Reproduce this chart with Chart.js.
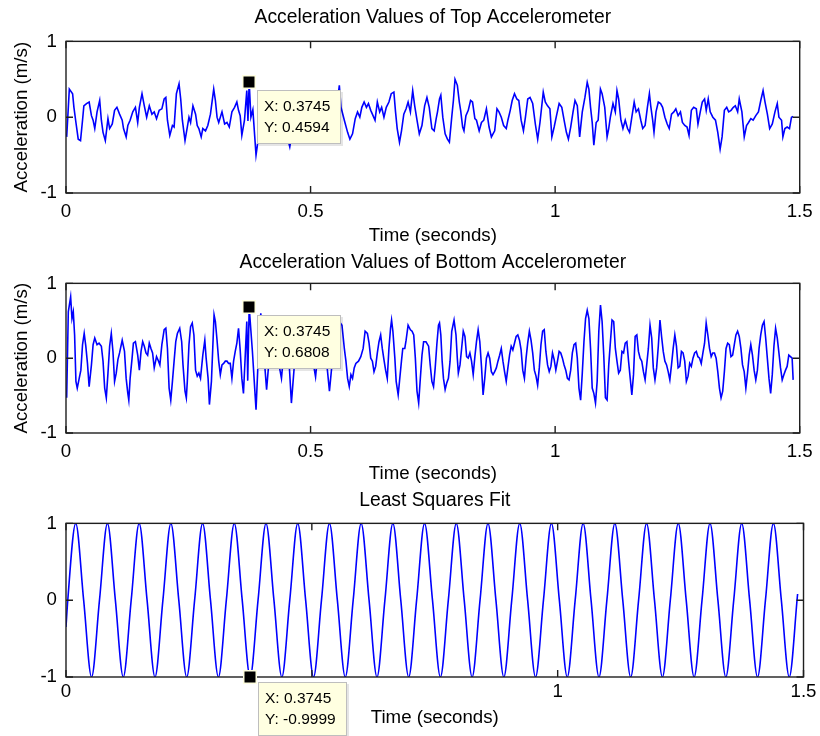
<!DOCTYPE html>
<html><head><meta charset="utf-8">
<script src="https://cdn.jsdelivr.net/npm/chart.js@4/dist/chart.umd.min.js"></script>
<style>
html,body{margin:0;padding:0;background:#fff;}
#wrap{position:relative;width:820px;height:736px;overflow:hidden;background:#fff;}
canvas{position:absolute;left:0;}
</style></head><body>
<div id="wrap">
<canvas id="c1" width="820" height="250" style="top:0px"></canvas>
<canvas id="c2" width="820" height="250" style="top:240px"></canvas>
<canvas id="c3" width="820" height="256" style="top:480px"></canvas>
</div>
<script>
// ---- ticks and labels ----
const xTicks = [0, 0.5, 1, 1.5];
const xTickLabels = ['0', '0.5', '1', '1.5'];
const yTicks = [-1, 0, 1];
const yTickLabels = ['-1', '0', '1'];
const plotTitles = ['Acceleration Values of Top Accelerometer', 'Acceleration Values of Bottom Accelerometer', 'Least Squares Fit'];
const xAxisTitle = 'Time (seconds)';
const yAxisTitle = 'Acceleration (m/s)';
// ---- data tips [time, value] ----
const dataTips = [[0.3745, 0.4594], [0.3745, 0.6808], [0.3745, -0.9999]];

// ---- series: [time (s), acceleration] ----
const topAccelerometer = [
[0.0014,-0.26],[0.0068,0.37],[0.0135,0.31],[0.0162,0.13],[0.0203,-0.07],[0.0250,-0.29],[0.0297,-0.31],[0.0338,-0.04],[0.0365,0.15],[0.0419,0.18],
[0.0473,0.20],[0.0520,0.02],[0.0554,-0.04],[0.0588,-0.15],[0.0635,0.07],[0.0689,0.22],[0.0723,-0.04],[0.0757,-0.20],[0.0804,-0.31],[0.0858,-0.02],
[0.0892,-0.15],[0.0946,-0.09],[0.0993,0.09],[0.1041,0.13],[0.1095,0.04],[0.1149,-0.04],[0.1176,-0.15],[0.1230,-0.26],[0.1264,-0.11],[0.1311,-0.04],
[0.1365,0.07],[0.1419,0.13],[0.1466,-0.07],[0.1500,0.13],[0.1554,0.31],[0.1601,0.15],[0.1649,0.00],[0.1703,0.15],[0.1757,0.04],[0.1804,0.07],
[0.1851,-0.02],[0.1905,0.09],[0.1960,0.11],[0.2007,0.24],[0.2041,0.26],[0.2074,-0.04],[0.2122,-0.24],[0.2176,-0.11],[0.2210,-0.13],[0.2257,0.31],
[0.2311,0.44],[0.2345,0.24],[0.2379,-0.04],[0.2433,-0.31],[0.2480,-0.13],[0.2514,0.00],[0.2547,-0.07],[0.2595,0.15],[0.2649,0.04],[0.2683,-0.11],
[0.2716,-0.15],[0.2764,-0.26],[0.2797,-0.15],[0.2852,-0.18],[0.2899,-0.11],[0.2953,0.04],[0.3020,0.37],[0.3054,0.22],[0.3088,0.00],[0.3122,-0.07],
[0.3189,0.07],[0.3243,-0.09],[0.3291,-0.07],[0.3338,-0.13],[0.3392,0.07],[0.3446,0.13],[0.3493,0.20],[0.3527,0.09],[0.3561,0.02],[0.3595,-0.24],
[0.3649,-0.04],[0.3696,0.35],[0.3720,-0.05],[0.3745,0.4594],[0.3780,0.00],[0.3820,0.10],[0.3885,-0.50],[0.3950,-0.20],[0.4020,0.05],[0.4100,-0.10],
[0.4200,0.10],[0.4300,-0.15],[0.4400,0.05],[0.4500,-0.20],[0.4575,-0.39],[0.4650,-0.10],[0.4750,0.10],[0.4850,-0.10],[0.4950,0.15],[0.5050,-0.05],
[0.5150,0.10],[0.5250,-0.15],[0.5350,0.05],[0.5450,-0.10],[0.5520,0.05],[0.5588,0.42],[0.5622,0.13],[0.5690,-0.04],[0.5757,-0.20],[0.5804,-0.29],
[0.5858,-0.22],[0.5913,-0.02],[0.5960,0.07],[0.6007,0.00],[0.6048,0.13],[0.6095,0.20],[0.6142,0.13],[0.6183,0.18],[0.6230,0.09],[0.6277,0.02],
[0.6318,-0.04],[0.6365,0.20],[0.6413,0.07],[0.6453,0.13],[0.6500,0.00],[0.6548,0.13],[0.6602,0.20],[0.6649,0.31],[0.6703,0.33],[0.6737,0.07],
[0.6771,-0.15],[0.6818,-0.33],[0.6859,-0.18],[0.6906,0.04],[0.6953,0.11],[0.6994,0.20],[0.7041,0.07],[0.7088,0.35],[0.7129,0.15],[0.7176,-0.04],
[0.7223,-0.22],[0.7277,-0.11],[0.7332,0.15],[0.7379,0.26],[0.7426,0.13],[0.7480,-0.15],[0.7527,-0.18],[0.7568,-0.02],[0.7595,0.07],[0.7636,0.24],
[0.7663,0.29],[0.7703,0.00],[0.7751,-0.22],[0.7798,-0.29],[0.7838,-0.33],[0.7886,0.00],[0.7920,0.22],[0.7953,0.50],[0.8001,0.42],[0.8041,0.20],
[0.8068,0.09],[0.8109,-0.13],[0.8136,-0.18],[0.8176,0.02],[0.8224,0.09],[0.8271,0.22],[0.8311,0.20],[0.8359,-0.02],[0.8392,-0.04],[0.8447,-0.18],
[0.8494,-0.07],[0.8541,-0.04],[0.8595,0.11],[0.8649,-0.13],[0.8697,-0.26],[0.8730,-0.22],[0.8764,-0.18],[0.8811,0.11],[0.8852,0.07],[0.8899,0.00],
[0.8947,-0.11],[0.9001,-0.15],[0.9034,-0.04],[0.9082,0.09],[0.9122,0.22],[0.9169,0.31],[0.9217,0.24],[0.9257,0.22],[0.9305,-0.04],[0.9352,-0.18],
[0.9393,0.00],[0.9440,0.24],[0.9487,0.26],[0.9541,0.18],[0.9595,-0.09],[0.9643,-0.29],[0.9690,-0.07],[0.9757,0.33],[0.9798,0.20],[0.9845,0.15],
[0.9893,0.11],[0.9933,-0.26],[0.9980,-0.13],[1.0028,0.02],[1.0082,0.18],[1.0136,0.13],[1.0183,-0.04],[1.0230,-0.20],[1.0271,-0.29],[1.0318,-0.13],
[1.0366,0.07],[1.0406,0.22],[1.0453,0.15],[1.0501,-0.26],[1.0555,0.07],[1.0609,0.26],[1.0656,0.46],[1.0690,0.37],[1.0724,0.13],[1.0758,-0.07],
[1.0791,-0.37],[1.0839,-0.07],[1.0879,-0.04],[1.0926,0.37],[1.0960,0.31],[1.1014,0.13],[1.1062,-0.26],[1.1095,-0.15],[1.1129,0.00],[1.1183,0.18],
[1.1230,0.07],[1.1264,0.35],[1.1298,0.24],[1.1345,-0.04],[1.1386,-0.15],[1.1433,-0.04],[1.1480,-0.15],[1.1521,-0.20],[1.1568,0.00],[1.1616,0.20],
[1.1656,0.07],[1.1703,0.11],[1.1751,-0.04],[1.1791,-0.15],[1.1839,-0.11],[1.1886,0.13],[1.1927,0.31],[1.1954,0.15],[1.1994,-0.04],[1.2021,-0.20],
[1.2062,0.07],[1.2109,0.20],[1.2156,0.18],[1.2197,0.13],[1.2244,0.00],[1.2291,-0.09],[1.2332,-0.15],[1.2379,0.04],[1.2427,0.07],[1.2467,0.11],
[1.2514,0.02],[1.2562,0.07],[1.2602,-0.07],[1.2650,-0.11],[1.2697,-0.13],[1.2737,-0.24],[1.2785,0.09],[1.2832,0.13],[1.2886,0.11],[1.2920,-0.09],
[1.2967,0.07],[1.3008,0.20],[1.3055,0.24],[1.3089,0.09],[1.3130,0.24],[1.3170,0.07],[1.3224,0.00],[1.3278,-0.04],[1.3325,-0.20],[1.3373,-0.42],
[1.3413,-0.26],[1.3460,0.09],[1.3508,0.13],[1.3548,0.07],[1.3596,0.09],[1.3643,0.13],[1.3683,0.15],[1.3731,0.07],[1.3764,0.24],[1.3818,0.07],
[1.3866,-0.26],[1.3913,-0.11],[1.3954,-0.07],[1.4001,-0.02],[1.4048,-0.04],[1.4102,0.02],[1.4156,0.07],[1.4204,0.22],[1.4251,0.35],[1.4291,0.20],
[1.4339,0.04],[1.4386,-0.15],[1.4440,-0.09],[1.4494,0.07],[1.4541,0.18],[1.4575,0.00],[1.4629,-0.04],[1.4656,-0.26],[1.4697,-0.15],[1.4744,-0.13],
[1.4791,-0.15],[1.4832,0.00],[1.4866,0.01]
];

const bottomAccelerometer = [
[0.0014,-0.53],[0.0047,0.62],[0.0095,0.82],[0.0122,0.53],[0.0149,0.62],[0.0176,0.31],[0.0203,-0.31],[0.0230,-0.40],[0.0270,-0.27],[0.0304,-0.16],
[0.0338,0.18],[0.0372,0.33],[0.0405,0.16],[0.0439,-0.07],[0.0473,-0.38],[0.0520,-0.09],[0.0554,0.18],[0.0588,0.27],[0.0635,0.18],[0.0676,0.20],
[0.0723,0.16],[0.0757,-0.04],[0.0791,-0.40],[0.0824,-0.53],[0.0858,-0.20],[0.0892,0.16],[0.0926,0.33],[0.0960,0.09],[0.0993,-0.31],[0.1027,-0.20],
[0.1061,-0.02],[0.1095,0.07],[0.1149,0.24],[0.1196,0.09],[0.1230,-0.27],[0.1264,-0.47],[0.1284,-0.56],[0.1311,-0.27],[0.1351,0.00],[0.1378,0.20],
[0.1419,0.22],[0.1466,0.04],[0.1500,-0.16],[0.1534,0.09],[0.1568,0.22],[0.1601,0.16],[0.1635,0.07],[0.1669,0.04],[0.1703,0.20],[0.1737,0.13],
[0.1770,0.07],[0.1804,-0.13],[0.1851,0.02],[0.1892,-0.04],[0.1919,-0.09],[0.1960,0.18],[0.2007,0.38],[0.2041,0.40],[0.2074,0.13],[0.2108,-0.40],
[0.2142,-0.56],[0.2176,-0.31],[0.2210,-0.04],[0.2244,0.22],[0.2277,0.33],[0.2325,0.40],[0.2365,0.22],[0.2392,-0.09],[0.2433,-0.44],[0.2460,-0.53],
[0.2480,-0.31],[0.2514,0.18],[0.2547,0.42],[0.2581,0.47],[0.2615,0.31],[0.2649,-0.16],[0.2683,-0.24],[0.2716,-0.20],[0.2750,-0.27],[0.2797,0.04],
[0.2838,0.24],[0.2865,0.00],[0.2905,-0.27],[0.2932,-0.62],[0.2973,-0.31],[0.3000,0.13],[0.3027,0.58],[0.3054,0.49],[0.3088,0.24],[0.3122,-0.04],
[0.3155,-0.22],[0.3189,-0.09],[0.3223,-0.07],[0.3257,-0.04],[0.3291,-0.04],[0.3324,-0.07],[0.3358,-0.07],[0.3392,-0.27],[0.3426,-0.04],[0.3460,0.09],
[0.3493,0.20],[0.3527,0.40],[0.3561,0.11],[0.3595,-0.27],[0.3628,-0.47],[0.3662,0.00],[0.3696,0.49],[0.3715,-0.30],[0.3745,0.6808],[0.3810,0.10],
[0.3885,-0.69],[0.3930,0.00],[0.3982,0.60],[0.4040,0.10],[0.4101,-0.42],[0.4180,0.20],[0.4260,0.35],[0.4330,0.00],[0.4405,-0.27],[0.4470,0.20],
[0.4530,0.30],[0.4608,-0.60],[0.4680,0.00],[0.4760,0.35],[0.4840,0.10],[0.4920,0.30],[0.5000,0.15],[0.5102,-0.25],[0.5170,0.20],[0.5250,0.35],
[0.5320,0.00],[0.5386,-0.44],[0.5450,0.00],[0.5520,0.30],[0.5588,0.49],[0.5642,0.44],[0.5690,0.13],[0.5723,-0.04],[0.5757,-0.27],[0.5791,-0.38],
[0.5825,-0.22],[0.5858,-0.27],[0.5892,-0.13],[0.5926,-0.07],[0.5980,-0.04],[0.6027,0.02],[0.6075,0.13],[0.6115,0.36],[0.6162,0.33],[0.6196,0.20],
[0.6230,0.00],[0.6264,-0.04],[0.6297,-0.18],[0.6331,-0.11],[0.6365,0.07],[0.6399,0.22],[0.6433,0.31],[0.6466,0.13],[0.6500,-0.02],[0.6534,-0.16],
[0.6568,-0.27],[0.6602,0.13],[0.6635,0.40],[0.6656,0.51],[0.6683,0.36],[0.6723,0.00],[0.6750,-0.31],[0.6791,-0.49],[0.6818,-0.31],[0.6858,-0.04],
[0.6885,0.13],[0.6926,0.13],[0.6953,0.24],[0.6994,0.44],[0.7041,0.38],[0.7075,0.36],[0.7109,0.31],[0.7142,0.00],[0.7176,-0.44],[0.7210,-0.60],
[0.7244,-0.27],[0.7278,0.04],[0.7311,0.22],[0.7359,0.22],[0.7413,0.16],[0.7446,-0.09],[0.7480,-0.31],[0.7514,-0.38],[0.7548,-0.13],[0.7581,0.18],
[0.7615,0.44],[0.7636,0.47],[0.7663,0.31],[0.7690,-0.04],[0.7717,-0.27],[0.7751,-0.42],[0.7784,-0.33],[0.7818,-0.27],[0.7852,-0.04],[0.7886,0.36],
[0.7933,0.51],[0.7973,0.31],[0.8000,0.00],[0.8021,-0.20],[0.8055,-0.09],[0.8088,0.13],[0.8122,0.36],[0.8156,0.29],[0.8190,0.02],[0.8223,0.00],
[0.8257,0.07],[0.8291,-0.04],[0.8325,-0.22],[0.8359,0.02],[0.8392,0.22],[0.8426,0.38],[0.8460,0.22],[0.8494,-0.11],[0.8527,-0.49],[0.8561,-0.27],
[0.8595,0.00],[0.8629,0.07],[0.8662,0.00],[0.8696,-0.18],[0.8730,-0.22],[0.8764,-0.18],[0.8798,-0.13],[0.8831,-0.04],[0.8865,0.04],[0.8899,0.13],
[0.8933,-0.04],[0.8966,-0.18],[0.9000,-0.31],[0.9034,-0.13],[0.9068,0.04],[0.9102,0.16],[0.9135,0.11],[0.9169,0.20],[0.9203,0.29],[0.9237,0.31],
[0.9271,0.24],[0.9304,0.11],[0.9338,-0.16],[0.9372,-0.27],[0.9406,0.00],[0.9439,0.20],[0.9473,0.36],[0.9507,0.24],[0.9541,0.07],[0.9575,-0.16],
[0.9609,-0.24],[0.9642,-0.36],[0.9676,-0.13],[0.9710,0.18],[0.9744,0.36],[0.9777,0.38],[0.9811,0.09],[0.9845,-0.09],[0.9879,-0.18],[0.9913,-0.11],
[0.9946,0.07],[0.9980,-0.02],[1.0014,-0.16],[1.0048,-0.04],[1.0082,0.09],[1.0115,0.07],[1.0149,0.00],[1.0183,-0.09],[1.0217,-0.16],[1.0251,-0.27],
[1.0284,-0.29],[1.0318,-0.16],[1.0352,0.07],[1.0386,0.18],[1.0420,0.20],[1.0453,0.00],[1.0487,-0.40],[1.0521,-0.56],[1.0555,-0.20],[1.0589,0.22],
[1.0622,0.53],[1.0656,0.64],[1.0690,0.53],[1.0724,0.13],[1.0758,-0.40],[1.0791,-0.47],[1.0825,-0.60],[1.0859,-0.31],[1.0893,0.36],[1.0927,0.71],
[1.0960,0.49],[1.0994,0.04],[1.1028,-0.53],[1.1062,-0.56],[1.1096,-0.09],[1.1163,0.51],[1.1197,0.49],[1.1231,0.13],[1.1264,-0.04],[1.1298,-0.20],
[1.1332,-0.16],[1.1366,0.09],[1.1399,0.07],[1.1433,0.20],[1.1467,0.22],[1.1501,-0.04],[1.1535,-0.27],[1.1568,-0.49],[1.1602,-0.22],[1.1636,0.29],
[1.1670,0.31],[1.1703,0.09],[1.1737,0.00],[1.1771,-0.04],[1.1805,-0.18],[1.1839,-0.29],[1.1872,-0.09],[1.1906,0.13],[1.1940,0.44],[1.1974,0.27],
[1.2007,-0.13],[1.2041,-0.29],[1.2075,-0.13],[1.2109,0.16],[1.2143,0.51],[1.2176,0.29],[1.2210,0.09],[1.2244,-0.04],[1.2278,-0.09],[1.2311,-0.18],
[1.2345,-0.29],[1.2379,-0.09],[1.2413,0.13],[1.2447,0.31],[1.2480,0.16],[1.2514,-0.13],[1.2548,-0.11],[1.2582,0.09],[1.2615,0.07],[1.2649,-0.04],
[1.2683,-0.31],[1.2717,-0.24],[1.2751,-0.07],[1.2784,-0.11],[1.2818,0.00],[1.2852,0.07],[1.2886,0.09],[1.2919,0.02],[1.2953,0.00],[1.2987,-0.07],
[1.3021,0.07],[1.3055,0.20],[1.3088,0.47],[1.3122,0.31],[1.3156,0.13],[1.3190,0.02],[1.3223,0.07],[1.3257,0.07],[1.3291,0.00],[1.3325,-0.18],
[1.3359,-0.40],[1.3392,-0.53],[1.3426,-0.44],[1.3460,-0.18],[1.3494,0.13],[1.3527,0.20],[1.3561,0.18],[1.3595,0.02],[1.3629,0.04],[1.3663,0.18],
[1.3696,0.31],[1.3730,0.36],[1.3764,0.29],[1.3798,0.13],[1.3831,-0.09],[1.3865,-0.18],[1.3899,-0.40],[1.3933,-0.20],[1.3967,0.04],[1.4000,0.18],
[1.4034,0.04],[1.4068,-0.16],[1.4102,-0.29],[1.4135,-0.16],[1.4169,0.13],[1.4203,0.31],[1.4237,0.44],[1.4271,0.49],[1.4304,0.27],[1.4338,0.00],
[1.4372,-0.27],[1.4406,-0.47],[1.4439,-0.22],[1.4473,0.16],[1.4507,0.40],[1.4541,0.27],[1.4575,0.07],[1.4608,-0.13],[1.4642,-0.29],[1.4676,-0.22],
[1.4710,-0.16],[1.4743,-0.11],[1.4777,0.04],[1.4811,0.02],[1.4845,0.00],[1.4866,-0.29]
];

// least squares fit: read at its zero crossings, crests and troughs
const leastSquaresFit = [
[0,-0.35],[0.0036,0],[0.0198,1],[0.0359,0],[0.0520,-1],[0.0681,0],[0.0843,1],[0.1004,0],[0.1165,-1],[0.1326,0],
[0.1488,1],[0.1649,0],[0.1810,-1],[0.1971,0],[0.2133,1],[0.2294,0],[0.2455,-1],[0.2616,0],[0.2778,1],[0.2939,0],
[0.3100,-1],[0.3261,0],[0.3423,1],[0.3584,0],[0.3745,-1],[0.3906,0],[0.4068,1],[0.4229,0],[0.4390,-1],[0.4551,0],
[0.4713,1],[0.4874,0],[0.5035,-1],[0.5196,0],[0.5358,1],[0.5519,0],[0.5680,-1],[0.5841,0],[0.6003,1],[0.6164,0],
[0.6325,-1],[0.6486,0],[0.6648,1],[0.6809,0],[0.6970,-1],[0.7131,0],[0.7293,1],[0.7454,0],[0.7615,-1],[0.7776,0],
[0.7938,1],[0.8099,0],[0.8260,-1],[0.8421,0],[0.8583,1],[0.8744,0],[0.8905,-1],[0.9066,0],[0.9228,1],[0.9389,0],
[0.9550,-1],[0.9711,0],[0.9873,1],[1.0034,0],[1.0195,-1],[1.0356,0],[1.0518,1],[1.0679,0],[1.0840,-1],[1.1001,0],
[1.1163,1],[1.1324,0],[1.1485,-1],[1.1646,0],[1.1808,1],[1.1969,0],[1.2130,-1],[1.2291,0],[1.2453,1],[1.2614,0],
[1.2775,-1],[1.2936,0],[1.3098,1],[1.3259,0],[1.3420,-1],[1.3581,0],[1.3743,1],[1.3904,0],[1.4065,-1],[1.4226,0],
[1.4388,1],[1.4549,0],[1.4710,-1],[1.4880,0.08]
];

// ---------------- rendering ----------------
const FONT = '"Liberation Sans", Arial, Helvetica, sans-serif';
Chart.defaults.font.family = FONT;
Chart.defaults.color = '#000';

const matlabAxes = {
  id: 'matlabAxes',
  afterDatasetsDraw(chart) {
    const {ctx, chartArea: a} = chart;
    const xs = chart.scales.x, ys = chart.scales.y;
    ctx.save();
    ctx.strokeStyle = '#1e1e1e';
    ctx.lineWidth = 1.4;
    ctx.strokeRect(a.left, a.top, a.right - a.left, a.bottom - a.top);
    const L = 7;
    ctx.beginPath();
    xTicks.forEach(v => {
      const px = xs.getPixelForValue(v);
      ctx.moveTo(px, a.bottom); ctx.lineTo(px, a.bottom - L);
      ctx.moveTo(px, a.top); ctx.lineTo(px, a.top + L);
    });
    yTicks.forEach(v => {
      const py = ys.getPixelForValue(v);
      ctx.moveTo(a.left, py); ctx.lineTo(a.left + L, py);
      ctx.moveTo(a.right, py); ctx.lineTo(a.right - L, py);
    });
    ctx.stroke();
    ctx.restore();
  },
  afterDraw(chart, args, opts) {
    const tip = opts.tip;
    if (!tip) return;
    const {ctx} = chart;
    const px = Math.round(chart.scales.x.getPixelForValue(tip[0]));
    const py = Math.round(chart.scales.y.getPixelForValue(tip[1]));
    ctx.save();
    ctx.fillStyle = '#FFFFE1';
    ctx.fillRect(px - 7, py - 7, 14, 14);
    ctx.fillStyle = '#000';
    ctx.fillRect(px - 5.5, py - 5.5, 11, 11);
    const lines = ['X: ' + tip[0].toFixed(4), 'Y: ' + tip[1].toFixed(4)];
    ctx.font = '15.5px ' + FONT;
    const w = Math.round(Math.max(...lines.map(l => ctx.measureText(l).width)) + 18);
    const h = 54;
    const bx = px + 8, by = py + (opts.tipDy || 8);
    ctx.fillStyle = 'rgba(0,0,0,0.10)';
    ctx.fillRect(bx + 2, by + 2, w, h);
    ctx.fillStyle = '#FFFFE1';
    ctx.fillRect(bx, by, w, h);
    ctx.strokeStyle = '#BEBEBE';
    ctx.lineWidth = 1;
    ctx.strokeRect(bx + 0.5, by + 0.5, w - 1, h - 1);
    ctx.fillStyle = '#000';
    ctx.textBaseline = 'middle';
    ctx.textAlign = 'left';
    ctx.fillText(lines[0], bx + 7, by + 17);
    ctx.fillText(lines[1], bx + 7, by + 38);
    ctx.restore();
  }
};

function makeChart(id, series, cfg) {
  const ctx = document.getElementById(id);
  return new Chart(ctx, {
    type: 'line',
    data: {
      datasets: [{
        data: series.map(p => ({x: p[0], y: p[1]})),
        borderColor: '#0000FF',
        borderWidth: 1.6,
        pointRadius: 0,
        tension: 0,
        cubicInterpolationMode: cfg.smooth ? 'monotone' : 'default',
        fill: false
      }]
    },
    options: {
      responsive: false,
      animation: false,
      events: [],
      layout: {padding: {left: 0, right: 14, top: 0, bottom: 0}},
      plugins: {
        legend: {display: false},
        tooltip: {enabled: false},
        title: {
          display: true,
          text: cfg.title,
          fullSize: false,
          color: '#000',
          font: {size: 19.3, weight: 'normal', family: FONT, lineHeight: 1.2},
          padding: {top: cfg.titleTop, bottom: cfg.titleBottom}
        },
        matlabAxes: {tip: cfg.tip, tipDy: cfg.tipDy}
      },
      scales: {
        x: {
          type: 'linear',
          min: 0, max: 1.5,
          afterBuildTicks: s => { s.ticks = xTicks.map(v => ({value: v})); },
          afterFit: s => { s.height = cfg.xHeight; },
          grid: {display: false, drawTicks: false, tickLength: 0},
          border: {display: false},
          ticks: {autoSkip: false, maxRotation: 0, padding: cfg.xTickPad, color: '#000',
                  font: {size: 18.7, family: FONT},
                  callback: v => xTickLabels[xTicks.indexOf(v)]},
          title: {display: true, text: xAxisTitle, color: '#000',
                  font: {size: 18.7, family: FONT, lineHeight: 1.2},
                  padding: {top: 0, bottom: cfg.xTitleBottom}}
        },
        y: {
          type: 'linear',
          min: -1, max: 1,
          afterBuildTicks: s => { s.ticks = yTicks.map(v => ({value: v})); },
          afterFit: s => { s.width = 66; },
          grid: {display: false, drawTicks: false, tickLength: 0},
          border: {display: false},
          ticks: {autoSkip: false, padding: 9, color: '#000',
                  font: {size: 18.7, family: FONT},
                  callback: v => yTickLabels[yTicks.indexOf(v)]},
          title: {display: cfg.yTitle, text: yAxisTitle, color: '#000',
                  font: {size: 18.7, family: FONT, lineHeight: 1.2},
                  padding: {top: 10.8, bottom: 0}}
        }
      }
    },
    plugins: [matlabAxes]
  });
}

makeChart('c1', topAccelerometer, {title: plotTitles[0], titleTop: 6.3, titleBottom: 11.9, xHeight: 57, xTickPad: 7.3, xTitleBottom: 2.8, yTitle: true, tip: dataTips[0], tipDy: 8});
makeChart('c2', bottomAccelerometer, {title: plotTitles[1], titleTop: 11.3, titleBottom: 8.9, xHeight: 57, xTickPad: 7.3, xTitleBottom: 4.8, yTitle: true, tip: dataTips[1], tipDy: 8});
makeChart('c3', leastSquaresFit, {title: plotTitles[2], titleTop: 9.3, titleBottom: 10.9, xHeight: 59, xTickPad: 3.5, xTitleBottom: 6.8, yTitle: false, tip: dataTips[2], tipDy: 5, smooth: true});
</script>
</body></html>
